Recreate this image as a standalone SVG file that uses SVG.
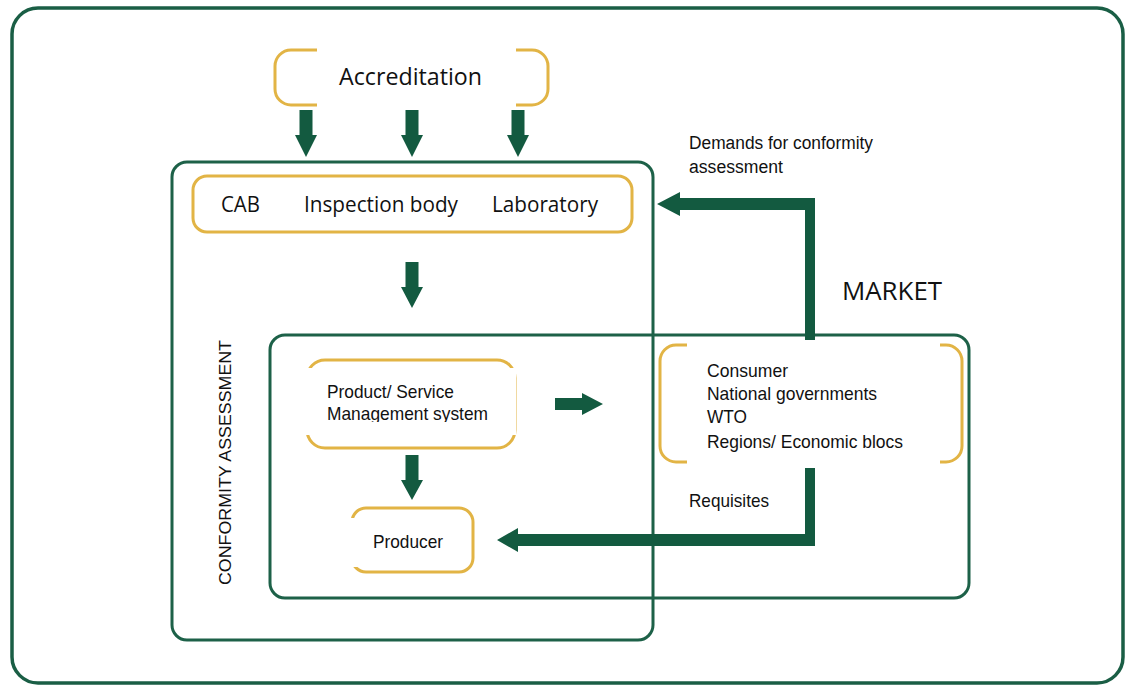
<svg xmlns="http://www.w3.org/2000/svg" width="1125" height="686" viewBox="0 0 1125 686">
<style>
.frame{fill:none;stroke:#1a5e45;stroke-width:3.5}
.gbox{fill:none;stroke:#1d6148;stroke-width:3}
.gold{fill:#fff;stroke:#e2b445;stroke-width:3}
.mask{fill:#fff;stroke:none}
.arr{fill:#135a40;stroke:none}
.cal{font-family:"Open Sans","Liberation Sans",sans-serif;fill:#111}
.ari{font-family:"Liberation Sans",Arial,sans-serif;fill:#111}
</style>
<defs>
<clipPath id="clipMgmt"><rect x="300" y="360" width="220" height="62"/></clipPath>
</defs>
<rect width="1125" height="686" fill="#fff"/>
<g id="outer-frame"><rect class="frame" x="12" y="8" width="1111" height="675" rx="26"/></g>
<g id="conformity-assessment">
<rect class="gbox" x="172" y="162" width="481" height="478" rx="15"/>
<text class="ari" font-size="17" transform="translate(231,585) rotate(-90)" textLength="245" lengthAdjust="spacingAndGlyphs">CONFORMITY ASSESSMENT</text>
</g>
<g id="market">
<rect class="gbox" x="270" y="335" width="699" height="263" rx="15"/>
<text class="cal" x="842" y="300" font-size="25" textLength="100" lengthAdjust="spacingAndGlyphs">MARKET</text>
</g>
<g id="accreditation">
<rect class="gold" x="275" y="50" width="273" height="55" rx="16"/>
<rect class="mask" x="317" y="46" width="199" height="63"/>
<text class="cal" x="339" y="85" font-size="23" textLength="143" lengthAdjust="spacingAndGlyphs">Accreditation</text>
</g>
<g id="cab">
<rect class="gold" x="193" y="176" width="439" height="56" rx="14"/>
<text class="cal" x="221" y="212" font-size="21" textLength="39" lengthAdjust="spacingAndGlyphs">CAB</text>
<text class="cal" x="304" y="212" font-size="21" textLength="154" lengthAdjust="spacingAndGlyphs">Inspection body</text>
<text class="cal" x="492" y="212" font-size="21" textLength="106" lengthAdjust="spacingAndGlyphs">Laboratory</text>
</g>
<g id="product">
<rect class="gold" x="307" y="360" width="208" height="88" rx="18"/>
<rect class="mask" x="303" y="368" width="213" height="67"/>
<text class="ari" x="327" y="398" font-size="19" textLength="127" lengthAdjust="spacingAndGlyphs">Product/ Service</text>
<text class="ari" x="327" y="420" font-size="19" textLength="161" lengthAdjust="spacingAndGlyphs" clip-path="url(#clipMgmt)">Management system</text>
</g>
<g id="producer">
<rect class="gold" x="352" y="508" width="121" height="64" rx="14"/>
<rect class="mask" x="349" y="518" width="30" height="49"/>
<text class="ari" x="373" y="548" font-size="19" textLength="70" lengthAdjust="spacingAndGlyphs">Producer</text>
</g>
<g id="stakeholders">
<rect class="gold" x="660" y="345" width="302" height="117" rx="16"/>
<rect class="mask" x="687" y="342" width="253" height="125"/>
<text class="ari" x="707" y="377" font-size="19" textLength="81" lengthAdjust="spacingAndGlyphs">Consumer</text>
<text class="ari" x="707" y="400" font-size="19" textLength="170" lengthAdjust="spacingAndGlyphs">National governments</text>
<text class="ari" x="707" y="423" font-size="19" textLength="40" lengthAdjust="spacingAndGlyphs">WTO</text>
<text class="ari" x="707" y="448" font-size="19" textLength="196" lengthAdjust="spacingAndGlyphs">Regions/ Economic blocs</text>
</g>
<g id="connectors">
<polygon class="arr" points="299.5,110 312.5,110 312.5,135 317,135 306,157 295,135 299.5,135"/>
<polygon class="arr" points="405.5,110 418.5,110 418.5,135 423,135 412,157 401,135 405.5,135"/>
<polygon class="arr" points="511.5,110 524.5,110 524.5,135 529,135 518,157 507,135 511.5,135"/>
<polygon class="arr" points="405.5,262 418.5,262 418.5,287 423,287 412,308 401,287 405.5,287"/>
<polygon class="arr" points="405.5,455 418.5,455 418.5,480 423,480 412,500 401,480 405.5,480"/>
<polygon class="arr" points="555,398 582,398 582,393 603,404 582,415 582,410 555,410"/>
<polygon class="arr" points="815,340 815,198 680,198 680,192 657,204 680,216 680,210 805,210 805,340"/>
<polygon class="arr" points="805,468 815,468 815,546 518,546 518,552 497,540 518,528 518,534 805,534"/>
<text class="ari" x="689" y="149" font-size="18" textLength="184" lengthAdjust="spacingAndGlyphs">Demands for conformity</text>
<text class="ari" x="689" y="173" font-size="18" textLength="94" lengthAdjust="spacingAndGlyphs">assessment</text>
<text class="ari" x="689" y="507" font-size="19" textLength="80" lengthAdjust="spacingAndGlyphs">Requisites</text>
</g>
</svg>
